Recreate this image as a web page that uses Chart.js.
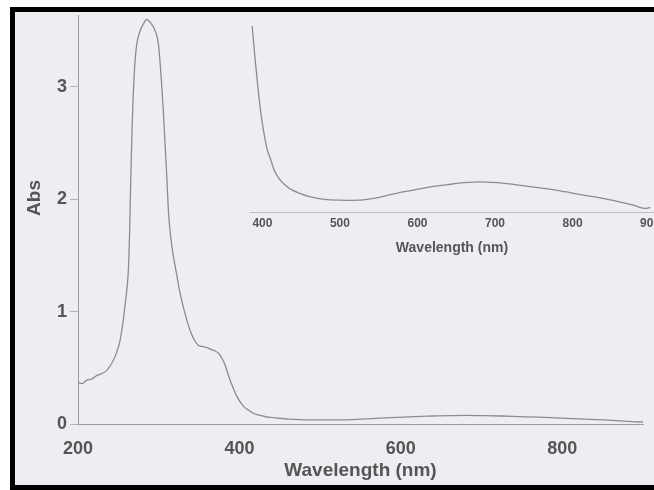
<!DOCTYPE html>
<html>
<head>
<meta charset="utf-8">
<script src="https://cdn.jsdelivr.net/npm/chart.js@4/dist/chart.umd.min.js"></script>
<style>
  html, body { margin: 0; padding: 0; background: #fff; }
  #frame {
    position: absolute; left: 10px; top: 7px; width: 644px; height: 483px;
    box-sizing: border-box; border: 5px solid #000; border-right: none;
    background: #eeedf2;
  }
  canvas { position: absolute; left: 0; top: 0; }
</style>
</head>
<body>
<div id="frame"></div>
<canvas id="chart" width="654" height="490"></canvas>
<canvas id="inset" width="654" height="490"></canvas>
<script>
// spectrum
var wavelength = [200, 205, 211, 217, 223, 230, 236, 244, 248, 252, 256, 258, 260, 262, 263, 264, 265,
    266, 267, 268, 269.5, 271, 273, 277, 281, 285, 290, 295.5, 299.5, 303, 305.7, 307.8, 310, 312,
    314, 316, 318, 320, 322, 326, 330.5, 335, 339, 344, 349, 354, 360, 366, 370, 374, 378, 382, 386, 390,
    394, 398, 402, 406, 410, 416, 423, 430, 438, 449, 461, 475, 487, 510, 530, 552, 574, 596, 617,
    640, 660, 680, 703, 725, 747, 770, 790, 812, 834, 856, 877, 894, 900];
var absorbance = [0.37, 0.36, 0.39, 0.40, 0.43, 0.45, 0.48, 0.57, 0.64, 0.74, 0.92, 1.04, 1.16, 1.32, 1.48, 1.72, 2.05,
    2.36, 2.62, 2.85, 3.09, 3.26, 3.39, 3.50, 3.56, 3.60, 3.57, 3.50, 3.39, 3.09, 2.79, 2.50, 2.20, 1.90,
    1.72, 1.60, 1.50, 1.42, 1.34, 1.18, 1.04, 0.92, 0.83, 0.75, 0.70, 0.69, 0.68, 0.66, 0.65, 0.63, 0.59, 0.53, 0.44, 0.36,
    0.29, 0.23, 0.185, 0.15, 0.13, 0.10, 0.081, 0.069, 0.059, 0.051, 0.044, 0.039, 0.037, 0.036, 0.037, 0.043, 0.052, 0.059, 0.066,
    0.071, 0.075, 0.077, 0.075, 0.071, 0.066, 0.061, 0.055, 0.048, 0.042, 0.034, 0.026, 0.018, 0.02];

var xTicks = [200, 400, 600, 800];
var yTicks = [0, 1, 2, 3];
var insetXTicks = [400, 500, 600, 700, 800, 900];

var FONT = '"Liberation Sans", Arial, sans-serif';
var TEXT = '#555';
var LINE = '#8c8c8c';

function points() {
    return wavelength.map(function (w, i) { return {x: w, y: absorbance[i]}; });
}

function fixedTicks(list) {
    return function (scale) {
        scale.ticks = list.map(function (v) { return {value: v}; });
    };
}

var absTitle = {
    id: 'absTitle',
    afterDraw: function (chart) {
        var ctx = chart.ctx;
        ctx.save();
        ctx.translate(35, 198);
        ctx.rotate(-Math.PI / 2);
        ctx.font = 'bold 19px ' + FONT;
        ctx.fillStyle = TEXT;
        ctx.textAlign = 'center';
        ctx.textBaseline = 'middle';
        ctx.fillText('Abs', 0, 0);
        ctx.restore();
    }
};

var mainChart = new Chart(document.getElementById('chart'), {
    type: 'line',
    data: {
        datasets: [{
            data: points(),
            borderColor: LINE,
            borderWidth: 1.3,
            pointRadius: 0,
            cubicInterpolationMode: 'monotone'
        }]
    },
    options: {
        responsive: false,
        animation: false,
        devicePixelRatio: 1,
        layout: {padding: {left: 0, top: 15, right: 11, bottom: 0}},
        plugins: {legend: {display: false}, tooltip: {enabled: false}},
        scales: {
            x: {
                type: 'linear', min: 200, max: 900,
                afterBuildTicks: fixedTicks(xTicks),
                afterFit: function (s) { s.height = 66; s.paddingLeft = 0; s.paddingRight = 0; },
                grid: {display: false, drawTicks: false},
                border: {display: true, color: '#9c9c9c', width: 1},
                ticks: {autoSkip: false, maxRotation: 0, padding: 14, color: TEXT,
                        font: {family: FONT, size: 18, weight: 'bold'}},
                title: {display: true, text: 'Wavelength (nm)', color: TEXT,
                        padding: {top: 0, bottom: 8},
                        font: {family: FONT, size: 19, weight: 'bold'}}
            },
            y: {
                type: 'linear', min: 0, max: 3.64,
                afterBuildTicks: fixedTicks(yTicks),
                afterFit: function (s) { s.width = 78; s.paddingTop = 0; s.paddingBottom = 0; },
                grid: {display: true, drawOnChartArea: false, drawTicks: true, tickLength: 8, color: '#b4b4b4'},
                border: {display: true, color: '#9c9c9c', width: 1},
                ticks: {padding: 3, color: TEXT, font: {family: FONT, size: 18, weight: 'bold'}}
            }
        }
    },
    plugins: [absTitle]
});

var insetChart = new Chart(document.getElementById('inset'), {
    type: 'line',
    data: {
        datasets: [{
            data: points(),
            borderColor: LINE,
            borderWidth: 1.3,
            pointRadius: 0,
            cubicInterpolationMode: 'monotone'
        }]
    },
    options: {
        responsive: false,
        animation: false,
        devicePixelRatio: 1,
        layout: {padding: {left: 250, top: 26, right: 0, bottom: 228}},
        plugins: {legend: {display: false}, tooltip: {enabled: false}},
        scales: {
            x: {
                type: 'linear', min: 384, max: 905,
                afterBuildTicks: fixedTicks(insetXTicks),
                afterFit: function (s) { s.height = 50; s.paddingLeft = 0; s.paddingRight = 0; },
                grid: {display: false, drawTicks: false},
                border: {display: true, color: '#bdbdbd', width: 1},
                ticks: {autoSkip: false, maxRotation: 0, padding: 4, color: TEXT,
                        font: {family: FONT, size: 12, weight: 'bold'}},
                title: {display: true, text: 'Wavelength (nm)', color: TEXT,
                        padding: {top: 0, bottom: 5},
                        font: {family: FONT, size: 14, weight: 'bold'}}
            },
            y: {
                type: 'linear', min: 0.01, max: 0.423,
                display: false
            }
        }
    }
});
</script>
</body>
</html>
